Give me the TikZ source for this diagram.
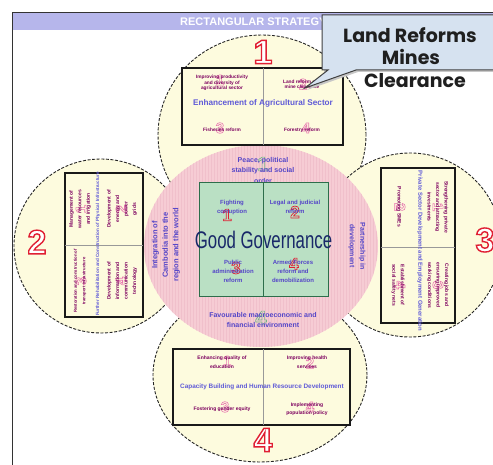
\documentclass[tikz,border=0pt]{standalone}
\usepackage{fontspec}
\setmainfont{Liberation Sans}
\newfontfamily\callfont{Poppins}
\definecolor{cream}{RGB}{253,251,222}
\definecolor{pinkfill}{RGB}{246,204,212}
\definecolor{pinkstripe}{RGB}{240,192,203}
\definecolor{greenfill}{RGB}{186,224,196}
\definecolor{greenline}{RGB}{45,110,75}
\definecolor{itemcol}{RGB}{125,0,95}
\definecolor{titlecol}{RGB}{95,90,215}
\definecolor{centercol}{RGB}{85,70,200}
\definecolor{ggcol}{RGB}{25,40,105}
\definecolor{bandcol}{RGB}{182,182,235}
\definecolor{calloutfill}{RGB}{214,226,240}
% outlined digit: #1 stroke width, #2 stroke rgb (0-1 values), #3 fill colour, #4 text
\newcommand\onum[4]{\textcolor{#3}{\special{pdf:literal direct #2 RG #1 w 2 Tr}#4\special{pdf:literal direct 0 Tr}}}
\newcommand\redrgb{0.88 0.12 0.2}
\newcommand\pinkrgb{0.91 0.47 0.69}
\newcommand\greenrgb{0.45 0.72 0.53}
\tikzset{
  lobe/.style={fill=cream, draw=black!85, dash pattern=on 3pt off 1.6pt, line width=0.9pt},
  sbox/.style={fill=cream, draw=black!90, line width=1.3pt},
  divl/.style={draw=black!40, line width=0.6pt},
  itm/.style={text=itemcol, font=\bfseries\fontsize{5}{8.5}\selectfont, align=center, inner sep=0pt},
  itmsq/.style={text=itemcol, font=\bfseries\fontsize{4.8}{5.3}\selectfont, align=center, inner sep=0pt},
  sect/.style={text=titlecol, font=\bfseries\fontsize{#1}{#1}\selectfont, inner sep=0pt},
  ctext/.style={text=centercol, font=\bfseries\fontsize{7}{10.5}\selectfont, align=center, inner sep=0pt},
  gtext/.style={text=centercol, font=\bfseries\fontsize{6}{9}\selectfont, align=center, inner sep=0pt},
  bignum/.style={inner sep=0pt, font=\bfseries\fontsize{34}{34}\selectfont},
  wm/.style={inner sep=0pt, font=\bfseries\fontsize{15}{15}\selectfont},
  callt/.style={inner sep=0pt, anchor=base, text=black!88, font=\callfont\bfseries\fontsize{19}{19}\selectfont},
}
\begin{document}
\begin{tikzpicture}[x=1pt,y=-1pt]
\useasboundingbox (0,0) rectangle (493,465);
\fill[white] (0,0) rectangle (493,465);
% frame and header band
\fill[bandcol] (12.5,13.5) rectangle (493,30);
\draw[black!80, line width=1pt] (12,465) -- (12,13) -- (493,13);
\node[anchor=west, text=white, inner sep=0pt, font=\bfseries\fontsize{11}{11}\selectfont] (hdr) at (180,22) {RECTANGULAR STRATEGY};
% lobes
\draw[lobe] (262,135) ellipse [x radius=104pt, y radius=100pt];
\draw[lobe] (101,246) circle [radius=87pt];
\draw[lobe] (410,245) circle [radius=92pt];
\draw[lobe] (260,375) ellipse [x radius=107pt, y radius=87pt];
% pink centre
\begin{scope}
  \clip (261,246) ellipse [x radius=117pt, y radius=101pt];
  \fill[pinkfill] (140,140) rectangle (380,350);
  \foreach \x in {145,148,...,378} \draw[pinkstripe, line width=0.8pt] (\x,144) -- (\x,348);
\end{scope}
% watermarks in pink
\node[inner sep=0pt, font=\bfseries\fontsize{20}{20}\selectfont] (gw1) at (263,164) {\onum{0.7}{\greenrgb}{pinkfill}{1}};
\node[inner sep=0pt, font=\bfseries\fontsize{20}{20}\selectfont] (gw4) at (261,318) {\onum{0.7}{\greenrgb}{pinkfill}{4}};
\node[ctext] (peace) at (263,170) {Peace, political\\stability and social\\order};
\node[ctext] (macro) at (263,320) {Favourable macroeconomic and\\financial environment};
\node[ctext, rotate=90, font=\bfseries\fontsize{7.5}{10.5}\selectfont] (integ) at (166,245) {Integration of\\Cambodia into the\\region and the world};
\node[ctext, rotate=-90] (partn) at (357,246) {Partnership in\\development};
% green centre
\draw[fill=greenfill, draw=greenline, line width=1pt] (199,183) rectangle (328,297);
\draw[greenline, line width=0.8pt] (263.5,183) -- (263.5,297);
\node[wm, font=\bfseries\fontsize{17}{17}\selectfont] (g1) at (227,215) {\onum{0.7}{\redrgb}{greenfill}{1}};
\node[wm, font=\bfseries\fontsize{17}{17}\selectfont] (g2) at (295,212) {\onum{0.7}{\redrgb}{greenfill}{2}};
\node[wm, font=\bfseries\fontsize{17}{17}\selectfont] (g3) at (236,268) {\onum{0.7}{\redrgb}{greenfill}{3}};
\node[wm, font=\bfseries\fontsize{17}{17}\selectfont] (g4) at (294,264) {\onum{0.7}{\redrgb}{greenfill}{4}};
\node[gtext] (fight) at (232,207) {Fighting\\corruption};
\node[gtext] (legal) at (295,207) {Legal and judicial\\reform};
\node[gtext] (pubad) at (233,271) {Public\\administration\\reform};
\node[gtext] (armed) at (293,271) {Armed Forces\\reform and\\demobilization};
\node[inner sep=0pt, text=ggcol, font=\fontsize{24}{24}\selectfont, xscale=0.7] (gg) at (263.5,240) {Good Governance};
% top box (1)
\draw[sbox] (182,68) rectangle (343,145);
\draw[divl] (263,68) -- (263,145);
\node[wm] (w11) at (220,80) {\onum{0.6}{\pinkrgb}{cream}{1}};
\node[wm] (w12) at (303,84) {\onum{0.6}{\pinkrgb}{cream}{2}};
\node[wm] (w13) at (220,128) {\onum{0.6}{\pinkrgb}{cream}{3}};
\node[wm] (w14) at (306,128) {\onum{0.6}{\pinkrgb}{cream}{4}};
\node[itmsq] (t1) at (222,83) {Improving productivity\\and diversity of\\agricultural sector};
\node[itmsq] (t2) at (302,84) {Land reform and\\mine clearance};
\node[itmsq] (t3) at (222,130) {Fisheries reform};
\node[itmsq] (t4) at (302,130) {Forestry reform};
\node[sect=8.2] (s1) at (263,103) {Enhancement of Agricultural Sector};
\node[bignum] (n1) at (263,52) {\onum{1.4}{\redrgb}{white}{1}};
% left box (2)
\draw[sbox] (65,173) rectangle (143,317);
\draw[divl] (65,245) -- (143,245);
\node[wm, rotate=90] (w21) at (81,209) {\onum{0.6}{\pinkrgb}{cream}{1}};
\node[wm, rotate=90] (w22) at (121,209) {\onum{0.6}{\pinkrgb}{cream}{2}};
\node[wm, rotate=90] (w23) at (81,281) {\onum{0.6}{\pinkrgb}{cream}{3}};
\node[wm, rotate=90] (w24) at (121,281) {\onum{0.6}{\pinkrgb}{cream}{4}};
\node[itm, rotate=90] (l1) at (80,209) {Management of\\water resources\\and irrigation};
\node[itm, rotate=90] (l2) at (122,209) {Development of\\energy and\\power\\grids};
\node[itm, rotate=90, font=\bfseries\fontsize{4.2}{8.5}\selectfont] (l3) at (80,281) {Restoration and construction of\\transport infrastructure};
\node[itm, rotate=90] (l4) at (122,281) {Development of\\information and\\communication\\technology};
\node[sect=4.6, rotate=90] (s2) at (98,244) {Further Rehabilitation and Construction of Physical Infrastructure};
\node[bignum] (n2) at (37,242) {\onum{1.4}{\redrgb}{white}{2}};
% right box (3)
\draw[sbox] (381,168) rectangle (455,323);
\draw[divl] (381,247) -- (455,247);
\node[wm, rotate=-90] (w31) at (438,207) {\onum{0.6}{\pinkrgb}{cream}{1}};
\node[wm, rotate=-90] (w32) at (400,207) {\onum{0.6}{\pinkrgb}{cream}{2}};
\node[wm, rotate=-90] (w33) at (438,285) {\onum{0.6}{\pinkrgb}{cream}{3}};
\node[wm, rotate=-90] (w34) at (400,285) {\onum{0.6}{\pinkrgb}{cream}{4}};
\node[itm, rotate=-90] (r1) at (438,207) {Strengthening private\\sector and attracting\\investments};
\node[itm, rotate=-90] (r2) at (399,207) {Promoting SMEs};
\node[itm, rotate=-90] (r3) at (438,285) {Creating jobs and\\ensuring improved\\working conditions};
\node[itm, rotate=-90] (r4) at (398,285) {Establishment of\\social safety nets};
\node[sect=5.9, rotate=-90] (s3) at (420,251) {Private Sector Development and Employment Generation};
\node[bignum] (n3) at (485,240) {\onum{1.4}{\redrgb}{white}{3}};
% bottom box (4)
\draw[sbox] (173,349) rectangle (350,425);
\draw[divl] (263,349) -- (263,425);
\node[wm] (w41) at (227,361) {\onum{0.6}{\pinkrgb}{cream}{1}};
\node[wm] (w42) at (310,363) {\onum{0.6}{\pinkrgb}{cream}{2}};
\node[wm] (w43) at (225,407) {\onum{0.6}{\pinkrgb}{cream}{3}};
\node[wm] (w44) at (310,407) {\onum{0.6}{\pinkrgb}{cream}{4}};
\node[itm] (b1) at (222,362) {Enhancing quality of\\education};
\node[itm] (b2) at (307,362) {Improving health\\services};
\node[itm] (b3) at (222,409) {Fostering gender equity};
\node[itm] (b4) at (307,409) {Implementing\\population policy};
\node[sect=6.4] (s4) at (262,387) {Capacity Building and Human Resource Development};
\node[bignum] (n4) at (263,440) {\onum{1.4}{\redrgb}{white}{4}};
% callout
\fill[black!22] (324,17) -- (498,17) -- (498,72) -- (358,72) -- (307,90) -- (330,72) -- (324,72) -- cycle;
\filldraw[fill=calloutfill, draw=black!75, line width=1pt] (322,15) -- (496,15) -- (496,70) -- (356,70) -- (305,88) -- (328,70) -- (322,70) -- cycle;
\node[callt] (c1) at (410,43) {Land Reforms};
\node[callt] (c2) at (411,65) {Mines};
\node[callt] (c3) at (415,88) {Clearance};
\end{tikzpicture}
\end{document}
